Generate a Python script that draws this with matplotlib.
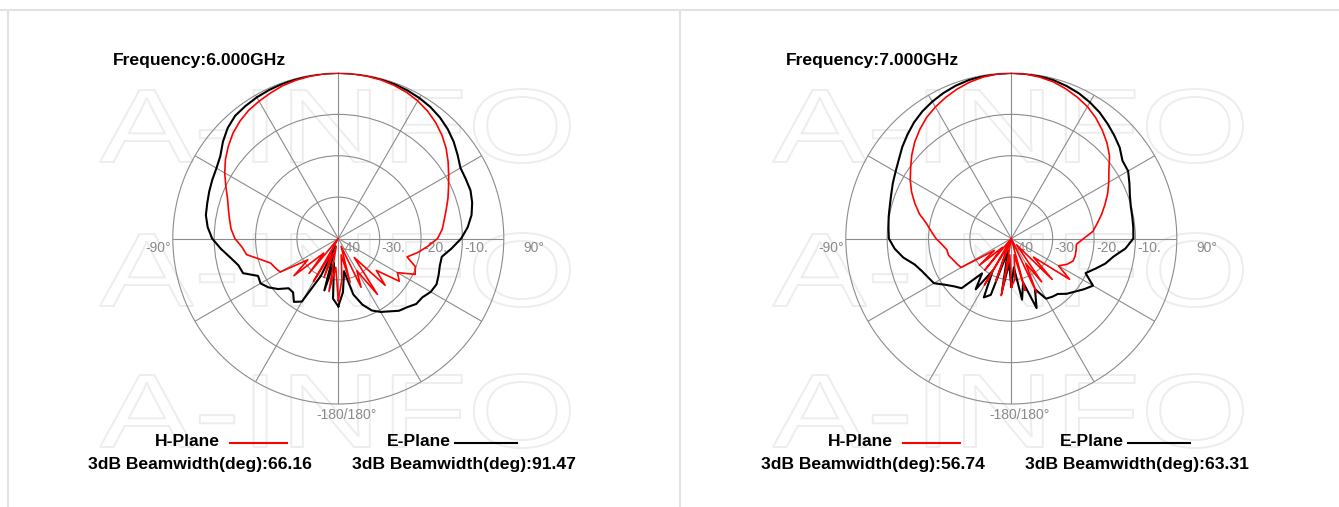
import numpy as np
import matplotlib
matplotlib.use("Agg")
import matplotlib.pyplot as plt
from matplotlib.textpath import TextPath
from matplotlib.patches import PathPatch
from matplotlib.font_manager import FontProperties
from matplotlib.transforms import Affine2D

W, H = 1339, 507
plt.rcParams['font.family'] = ['Liberation Sans', 'DejaVu Sans']

# measured pattern, dB, every 5 deg from -180 to 180
angles = np.arange(-180, 181, 5)

h_plane_6 = [
    -25, -33, -27, -38, -30, -36, -28, -40, -29,                  # -180 .. -140
    -35, -26, -31, -23.8, -23.2, -22.6, -20.5, -17.5, -16.6,      # -135 .. -95
    -15, -14, -13.3, -12.5, -11.5, -10, -8.3, -6.7, -5.3,         # -90 .. -50
    -4, -3, -2.2, -1.7, -1.2, -0.7, -0.4, -0.2, -0.05,            # -45 .. -5
    0, -0.05, -0.15, -0.3, -0.6, -1.0, -1.6, -2.4, -3.4,          # 0 .. 40
    -4.6, -6, -7.6, -9.2, -10.6, -11.8, -13, -14, -14.8,          # 45 .. 85
    -16, -18.3, -20.5, -22.8, -20.2, -19.5, -23.5, -22, -28,      # 90 .. 130
    -24, -34, -23.5, -31, -27, -38, -29, -36, -30,                # 135 .. 175
    -25]
e_plane_6 = [
    -23.6, -25.4, -34, -27, -38, -30, -22.4, -21.3, -23,
    -23, -21, -19.4, -18.3, -18.6, -15.5, -15, -13.5, -11.5,
    -9.5, -8.3, -7.5, -7.2, -6.8, -6.4, -6.0, -5.2, -3.6,
    -2.2, -1.25, -0.9, -0.6, -0.4, -0.25, -0.1, -0.05, 0,
    0, 0, -0.05, -0.15, -0.3, -0.5, -0.8, -1.2, -1.8,
    -2.6, -3.6, -4.8, -5.9, -6.0, -6.0, -6.5, -7.3, -8.6,
    -10.3, -12.5, -14.6, -14.6, -14.2, -13.8, -14.2, -15.2, -15.4,
    -16.5, -17.2, -18.5, -19.5, -20.8, -23, -26, -32, -27,
    -23.6]
h_plane_7 = [
    -28.3, -36, -26, -40, -29, -38, -27, -40, -30,
    -37, -29.9, -35, -26, -25.5, -25, -24.3, -24.2, -23.2,
    -21.8, -20.6, -19.2, -17, -15.2, -13.4, -11.8, -10.3, -8.6,
    -7, -5.6, -4.3, -3.3, -2.4, -1.6, -0.9, -0.4, -0.1,
    0, -0.1, -0.4, -0.8, -1.5, -2.3, -3.2, -4.4, -5.8,
    -7.3, -9.0, -11.2, -12.8, -14.3, -15.9, -17.4, -18.9, -20.2,
    -22.5, -24.2, -24.1, -24, -24.1, -25.2, -26.8, -22.8, -33,
    -26, -38, -27.2, -33, -25.5, -40, -27, -36, -30,
    -28.3]
e_plane_7 = [
    -28.3, -34, -27, -37, -25.5, -24.3, -31, -25, -29,
    -23, -22, -20.5, -18.4, -17.8, -17, -15.8, -13.5, -11.7,
    -10.4, -10.2, -9.9, -9.6, -9.1, -8.4, -7.7, -6.8, -5.6,
    -4.5, -3.4, -2.5, -1.8, -1.2, -0.7, -0.35, -0.15, -0.05,
    0, -0.05, -0.15, -0.4, -0.8, -1.3, -2, -2.8, -3.8,
    -4.8, -5.8, -7.2, -7.4, -8.5, -9.5, -10.1, -10.3, -10.4,
    -10.5, -12.3, -14.9, -16.5, -18.5, -20.2, -17.2, -18.6, -20,
    -21.1, -22.5, -22.8, -23.2, -26.5, -22.1, -29, -25, -33,
    -28.3]

freqs = ['6.000', '7.000']
h_bw = ['66.16', '56.74']
e_bw = ['91.47', '63.31']
h_data = [h_plane_6, h_plane_7]
e_data = [e_plane_6, e_plane_7]
r_ticks = [-40, -30, -20, -10]
r_labels = ['-40', '-30.', '-20.', '-10.']

grid_col = '#8c8c8c'
lab_col = '#8a8a8a'
wm_col = '#ededed'
panel_dx = 673
cx0, cy, R = 338.3, 238.5, 165.5

fig = plt.figure(figsize=(W / 100, H / 100), dpi=100)
bg = fig.add_axes([0, 0, 1, 1])
bg.set_xlim(0, W)
bg.set_ylim(H, 0)
bg.axis('off')

# panel frame
bg.plot([0, W], [10, 10], color='#e2e2e2', lw=1.5)
bg.plot([7.5, 7.5], [10, H], color='#e2e2e2', lw=1.5)
bg.plot([679.5, 679.5], [10, H], color='#e2e2e2', lw=1.5)

# watermark
tp = TextPath((0, 0), 'A-INFO', size=100, prop=FontProperties(family='Liberation Sans'))
bb = tp.get_extents()
for p in range(2):
    for base in [163, 307, 448]:
        x0 = 100 + p * panel_dx
        tr = Affine2D().translate(-bb.x0, -bb.y0).scale(470 / bb.width, -74 / bb.height).translate(x0, base)
        bg.add_patch(PathPatch(tr.transform_path(tp), fc='none', ec=wm_col, lw=1.4, zorder=0))

for p in range(2):
    cx = cx0 + p * panel_dx
    ax = fig.add_axes([(cx - R) / W, 1 - (cy + R) / H, 2 * R / W, 2 * R / H], projection='polar')
    ax.set_facecolor('none')
    ax.set_theta_zero_location('N')
    ax.set_theta_direction(-1)
    ax.set_rlim(-40, 0)
    ax.set_thetagrids(np.arange(0, 360, 30), [''] * 12)
    ax.set_rgrids([-30, -20, -10], [''] * 3)
    ax.grid(True, color=grid_col, lw=0.8)
    ax.spines['polar'].set_color(grid_col)
    ax.spines['polar'].set_linewidth(0.8)
    ax.tick_params(length=0)

    th = np.deg2rad(angles)
    ax.plot(th, np.clip(e_data[p], -40, 0), color='black', lw=1.5, zorder=3)
    ax.plot(th, np.clip(h_data[p], -40, 0), color='#ff0000', lw=1.2, zorder=4)

    for t, lab in zip(r_ticks, r_labels):
        ax.annotate(lab, xy=(np.pi / 2, t), xytext=(2, -9), textcoords='offset pixels',
                    ha='left', va='center', color=lab_col, fontsize=10, annotation_clip=False)
    ax.annotate('-90°', xy=(-np.pi / 2, 0), xytext=(-2, -9), textcoords='offset pixels',
                ha='right', va='center', color=lab_col, fontsize=10, annotation_clip=False)
    ax.annotate('90°', xy=(np.pi / 2, 0), xytext=(20, -9), textcoords='offset pixels',
                ha='left', va='center', color=lab_col, fontsize=10, annotation_clip=False)
    ax.annotate('-180/180°', xy=(np.pi, 0), xytext=(8, -11), textcoords='offset pixels',
                ha='center', va='center', color=lab_col, fontsize=10, annotation_clip=False)

    ox = p * panel_dx
    fs = 12.6
    bg.text(113 + ox, 61, 'Frequency:' + freqs[p] + 'GHz', fontsize=fs, fontweight='bold',
            ha='left', va='center')
    bg.text(220 + ox, 442, 'H-Plane', fontsize=fs, fontweight='bold', ha='right', va='center')
    bg.plot([230 + ox, 287 + ox], [443, 443], color='#ff0000', lw=1.5)
    bg.text(451 + ox, 442, 'E-Plane', fontsize=fs, fontweight='bold', ha='right', va='center')
    bg.plot([455 + ox, 517 + ox], [443, 443], color='black', lw=1.5)
    bg.text(200 + ox, 465, '3dB Beamwidth(deg):' + h_bw[p], fontsize=fs, fontweight='bold',
            ha='center', va='center')
    bg.text(464 + ox, 465, '3dB Beamwidth(deg):' + e_bw[p], fontsize=fs, fontweight='bold',
            ha='center', va='center')

fig.savefig('out.png', dpi=100)
